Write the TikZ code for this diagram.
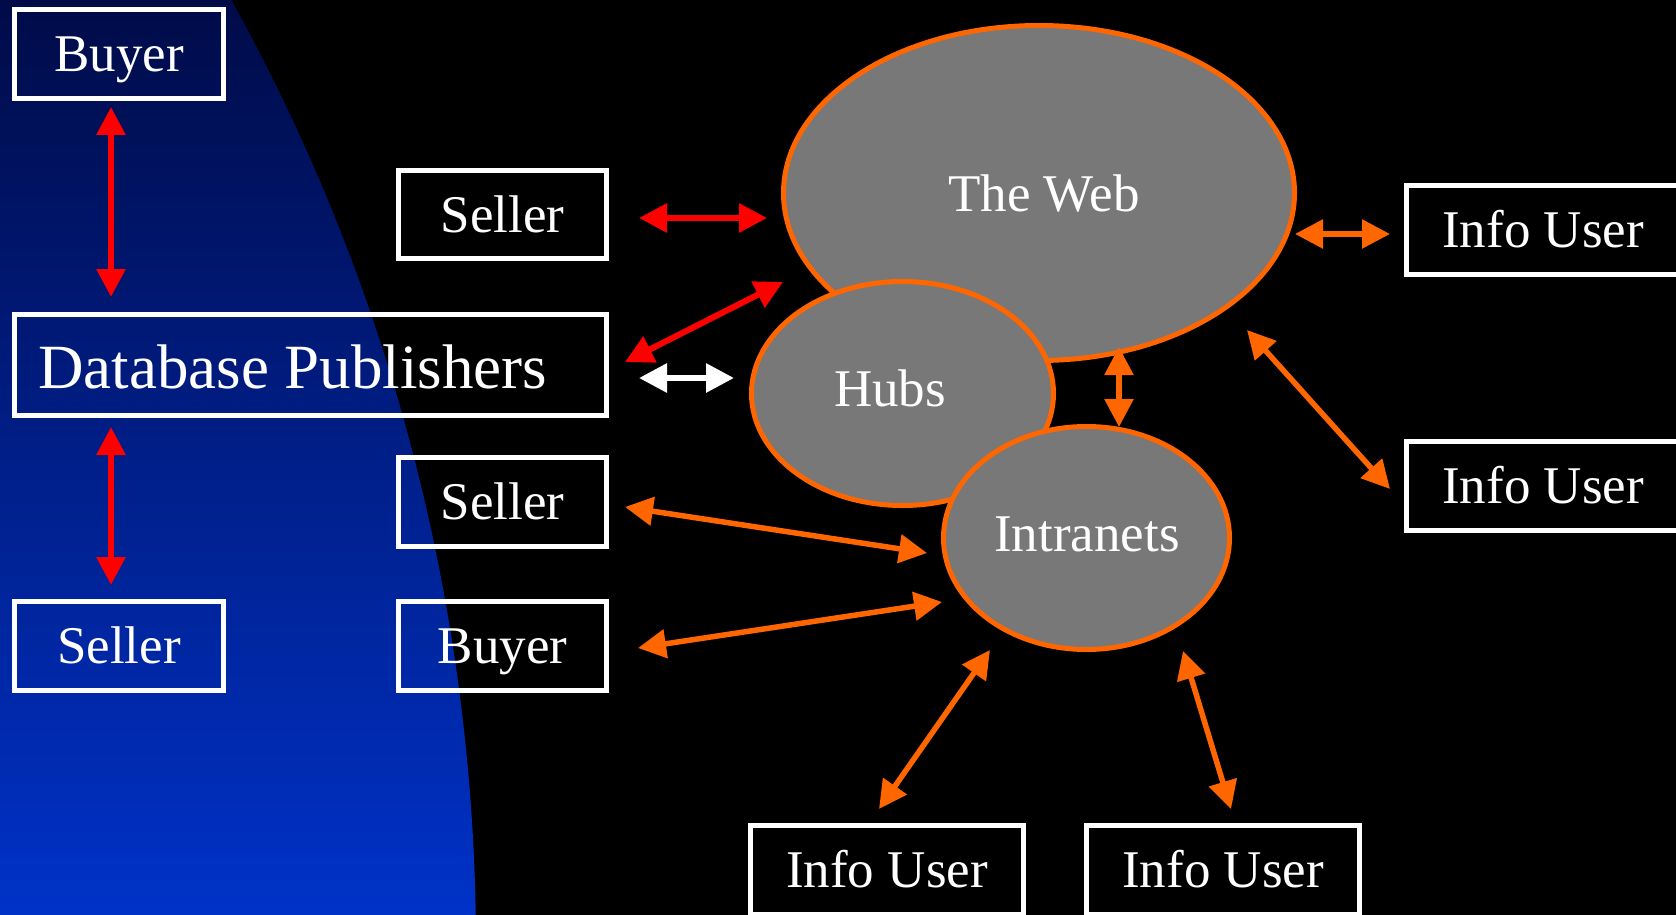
\documentclass[tikz,border=0pt]{standalone}
\usepackage{fontspec}
\setmainfont{Liberation Serif}
\usetikzlibrary{arrows.meta,shapes.geometric}
\definecolor{navytop}{HTML}{000B48}
\definecolor{bluemid}{HTML}{00249C}
\definecolor{bluebot}{HTML}{0032C8}
\definecolor{orng}{HTML}{FF6600}
\definecolor{redc}{HTML}{FF0000}
\definecolor{ellgray}{HTML}{787878}
\tikzset{
  box/.style={draw=white, line width=5pt, rectangle, inner sep=0pt, text=white,
    font=\fontsize{53}{60}\selectfont, text height=35pt, text depth=0pt},
  bubble/.style={ellipse, draw=orng, fill=ellgray, line width=5pt, inner sep=0pt},
  btxt/.style={text=white, inner sep=0pt, font=\fontsize{53}{60}\selectfont, text height=35pt, text depth=0pt},
  tip/.tip={Triangle[length=28pt,width=28pt]},
  redarrow/.style={draw=redc, line width=6pt, {tip}-{tip}},
  orarrow/.style={draw=orng, line width=5.5pt, {tip}-{tip}},
  wharrow/.style={draw=white, line width=6pt, {tip}-{tip}},
}
\begin{document}
\begin{tikzpicture}[x=1pt,y=-1pt]
\useasboundingbox (0,0) rectangle (1676,915);
\fill[black] (0,0) rectangle (1676,915);
\begin{scope}
  \clip (-1480,948) circle[radius=1956pt];
  \shade[top color=navytop, middle color=bluemid, bottom color=bluebot] (0,0) rectangle (700,915);
\end{scope}

% boxes
\node[box, minimum width=209pt, minimum height=89pt] (buyerA) at (119,54) {Buyer};
\node[box, minimum width=208pt, minimum height=88pt] (sellerA) at (502.5,214.5) {Seller};
\node[box, minimum width=592pt, minimum height=101pt] (db) at (310.5,365) {};
\node[anchor=base west, text=white, inner sep=0pt, font=\fontsize{63}{70}\selectfont] (dbtext) at (38,388) {Database Publishers};
\node[box, minimum width=208pt, minimum height=89pt] (sellerB) at (502.5,502) {Seller};
\node[box, minimum width=209pt, minimum height=89pt] (sellerC) at (119,646) {Seller};
\node[box, minimum width=208pt, minimum height=89pt] (buyerB) at (502.5,646) {Buyer};
\node[box, minimum width=273pt, minimum height=89pt] (infoA) at (1543,230) {Info User};
\node[box, minimum width=273pt, minimum height=89pt] (infoB) at (1543,486) {Info User};
\node[box, minimum width=273pt, minimum height=89pt] (infoC) at (887,870) {Info User};
\node[box, minimum width=273pt, minimum height=89pt] (infoD) at (1223,870) {Info User};

% bubbles
\node[bubble, minimum width=511pt, minimum height=335pt] (web) at (1039,193) {};
\node[btxt] (webtext) at (1044,194) {The Web};
\node[bubble, minimum width=302pt, minimum height=224pt] (hubs) at (902.5,393.5) {};
\node[btxt] (hubstext) at (890,388.5) {Hubs};
\node[bubble, minimum width=286pt, minimum height=223pt] (intra) at (1086.5,538) {};
\node[btxt] (intratext) at (1087,533.5) {Intranets};

% connector end points
\coordinate (a1) at (111,107);  \coordinate (a2) at (111,297);
\coordinate (b1) at (111,427);  \coordinate (b2) at (111,585);
\coordinate (c1) at (639,218);  \coordinate (c2) at (767,218);
\coordinate (d1) at (625,362);  \coordinate (d2) at (783,282);
\coordinate (e1) at (639,378);  \coordinate (e2) at (734,378);
\coordinate (f1) at (1119,347); \coordinate (f2) at (1119,427);
\coordinate (g1) at (1295,234); \coordinate (g2) at (1390,234);
\coordinate (h1) at (1247,330); \coordinate (h2) at (1390,489);
\coordinate (i1) at (625,507);  \coordinate (i2) at (927,553);
\coordinate (j1) at (638,648);  \coordinate (j2) at (942,602);
\coordinate (k1) at (990,650);  \coordinate (k2) at (879,809);
\coordinate (l1) at (1183,651); \coordinate (l2) at (1231,809);

\draw[redarrow] (a1) -- (a2);
\draw[redarrow] (b1) -- (b2);
\draw[redarrow] (c1) -- (c2);
\draw[redarrow] (d1) -- (d2);
\draw[wharrow] (e1) -- (e2);
\draw[orarrow] (f1) -- (f2);
\draw[orarrow] (g1) -- (g2);
\draw[orarrow] (h1) -- (h2);
\draw[orarrow] (i1) -- (i2);
\draw[orarrow] (j1) -- (j2);
\draw[orarrow] (k1) -- (k2);
\draw[orarrow] (l1) -- (l2);
\end{tikzpicture}
\end{document}
